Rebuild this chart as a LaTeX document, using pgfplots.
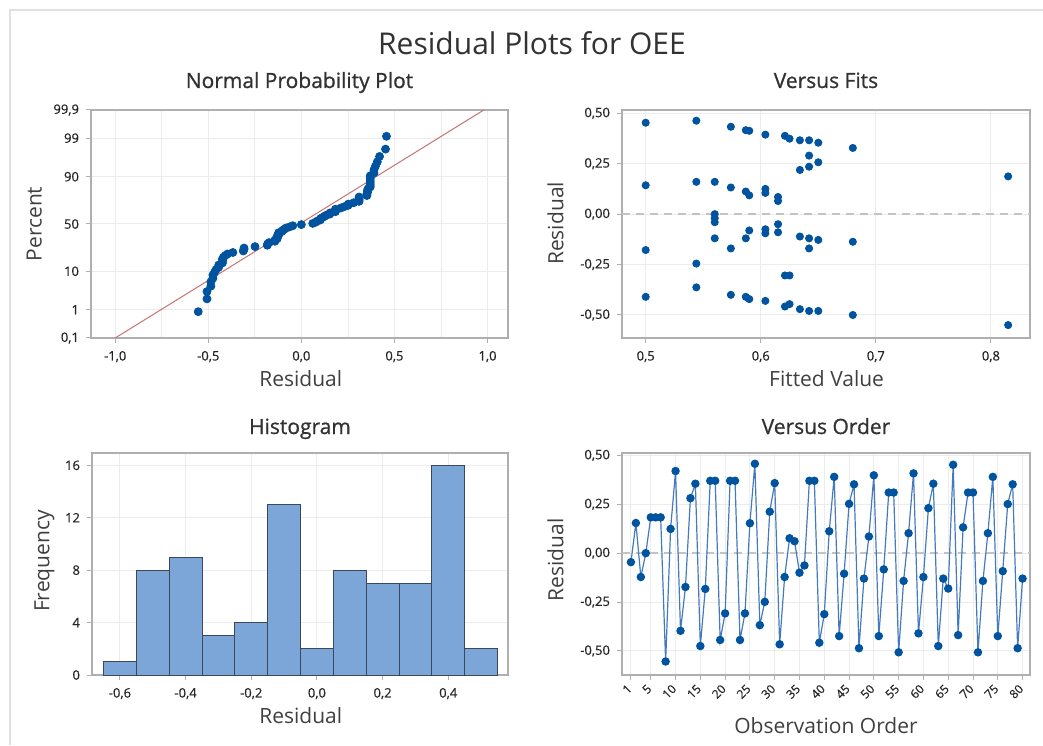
\documentclass[border=0pt]{standalone}
\usepackage{pgfplots}
\pgfplotsset{compat=1.18}
\usepackage{fontspec}
\setmainfont{Open Sans}
\newfontfamily\semib{Open Sans}[FakeBold=0.8]
\newfontfamily\tickf{Open Sans}[FakeBold=0.5]
\definecolor{mk}{RGB}{0,84,159}
\definecolor{ln}{RGB}{70,122,190}
\definecolor{barf}{RGB}{124,165,216}
\definecolor{bare}{RGB}{60,72,90}
\definecolor{fr}{RGB}{175,175,175}
\definecolor{gr}{RGB}{236,236,236}
\definecolor{txt}{RGB}{50,50,50}
\definecolor{lab}{RGB}{64,64,64}
\definecolor{fitl}{RGB}{200,115,115}
\definecolor{zl}{RGB}{195,195,195}
\pgfplotsset{
  mystyle/.style={
    scale only axis,
    axis line style={fr, line width=0.7pt},
    tick align=outside,
    tick pos=left,
    major tick length=2.5pt,
    minor tick length=0pt,
    tick style={fr, line width=0.5pt},
    grid=major,
    major grid style={gr, line width=0.5pt},
    minor grid style={gr, line width=0.4pt},
    ticklabel style={font=\tickf\fontsize{6.5}{7}\selectfont, text=black!85},
    xticklabel style={yshift=-0.5pt},
    /pgf/number format/assume math mode=true,
  },
}
\pgfplotstableread{
obs res
1 -0.046
2 0.154
3 -0.122
4 0.0
5 0.183
6 0.183
7 0.183
8 -0.554
9 0.124
10 0.42
11 -0.397
12 -0.173
13 0.281
14 0.355
15 -0.475
16 -0.183
17 0.37
18 0.37
19 -0.444
20 -0.308
21 0.37
22 0.37
23 -0.444
24 -0.308
25 0.153
26 0.457
27 -0.368
28 -0.249
29 0.212
30 0.358
31 -0.466
32 -0.122
33 0.076
34 0.061
35 -0.1
36 -0.063
37 0.37
38 0.37
39 -0.458
40 -0.312
41 0.112
42 0.39
43 -0.424
44 -0.105
45 0.252
46 0.352
47 -0.486
48 -0.13
49 0.085
50 0.398
51 -0.424
52 -0.083
53 0.31
54 0.31
55 -0.507
56 -0.142
57 0.102
58 0.408
59 -0.41
60 -0.122
61 0.23
62 0.355
63 -0.475
64 -0.13
65 -0.181
66 0.452
67 -0.419
68 0.132
69 0.31
70 0.31
71 -0.507
72 -0.142
73 0.102
74 0.39
75 -0.424
76 -0.092
77 0.251
78 0.352
79 -0.486
80 -0.13
}\ordertab
\pgfplotstableread{
res z
-0.554 -2.377
-0.507 -2.030
-0.507 -1.831
-0.486 -1.685
-0.486 -1.568
-0.475 -1.469
-0.475 -1.383
-0.466 -1.306
-0.458 -1.236
-0.444 -1.172
-0.444 -1.112
-0.424 -1.056
-0.424 -1.003
-0.424 -0.953
-0.419 -0.905
-0.410 -0.859
-0.397 -0.814
-0.368 -0.772
-0.312 -0.731
-0.308 -0.690
-0.308 -0.651
-0.249 -0.613
-0.183 -0.576
-0.181 -0.539
-0.173 -0.504
-0.142 -0.469
-0.142 -0.434
-0.130 -0.400
-0.130 -0.367
-0.130 -0.334
-0.122 -0.301
-0.122 -0.268
-0.122 -0.236
-0.105 -0.204
-0.100 -0.172
-0.092 -0.141
-0.083 -0.110
-0.063 -0.078
-0.046 -0.047
0.000 -0.016
0.061 0.016
0.076 0.047
0.085 0.078
0.102 0.110
0.102 0.141
0.112 0.172
0.124 0.204
0.132 0.236
0.153 0.268
0.154 0.301
0.183 0.334
0.183 0.367
0.183 0.400
0.212 0.434
0.230 0.469
0.251 0.504
0.252 0.539
0.281 0.576
0.310 0.613
0.310 0.651
0.310 0.690
0.310 0.731
0.352 0.772
0.352 0.814
0.355 0.859
0.355 0.905
0.358 0.953
0.370 1.003
0.370 1.056
0.370 1.112
0.370 1.172
0.370 1.236
0.370 1.306
0.390 1.383
0.390 1.469
0.398 1.568
0.408 1.685
0.420 1.831
0.452 2.030
0.457 2.377
}\normtab
\pgfplotstableread{
fit res
0.500 0.453
0.500 0.143
0.500 -0.178
0.500 -0.410
0.544 0.463
0.544 0.160
0.544 -0.245
0.544 -0.363
0.560 0.160
0.560 0.000
0.560 -0.020
0.560 -0.040
0.560 -0.120
0.574 0.433
0.574 0.132
0.574 -0.170
0.574 -0.400
0.587 0.416
0.587 0.112
0.587 -0.120
0.587 -0.410
0.590 0.413
0.590 0.093
0.590 -0.081
0.590 -0.421
0.604 0.394
0.604 0.125
0.604 0.105
0.604 -0.075
0.604 -0.095
0.604 -0.430
0.615 0.085
0.615 0.065
0.615 -0.050
0.615 -0.090
0.621 0.388
0.621 -0.304
0.621 -0.458
0.625 0.374
0.625 -0.304
0.625 -0.446
0.634 0.366
0.634 0.219
0.634 -0.111
0.634 -0.471
0.642 0.366
0.642 0.290
0.642 0.235
0.642 -0.120
0.642 -0.170
0.642 -0.480
0.650 0.354
0.650 0.257
0.650 -0.128
0.650 -0.480
0.680 0.328
0.680 -0.137
0.680 -0.500
0.815 0.187
0.815 -0.550
}\fitstab
\begin{document}
\begin{tikzpicture}[x=1pt,y=1pt]
\useasboundingbox (0,0) rectangle (521.5,372.5);
\fill[white] (0,0) rectangle (521.5,372.5);
\draw[black!12, line width=1pt] (5,0) -- (5,367.5) -- (521.5,367.5);

% ---------- Normal probability plot
\begin{axis}[mystyle, at={(45.5pt,203.5pt)}, anchor=south west,
  width=208.5pt, height=114pt,
  xmin=-1.13, xmax=1.11, ymin=-3.09, ymax=3.09,
  xtick={-1,-0.5,0,0.5,1},
  xticklabels={{-1,0},{-0,5},{0,0},{0,5},{1,0}},
  minor xtick={-0.75,-0.25,0.25,0.75},
  xminorgrids=true,
  ytick={-3.09,-2.326,-1.2816,0,1.2816,2.326,3.09},
  yticklabels={{0,1},1,10,50,90,99,{99,9}},
  clip=false]
\addplot[fitl, line width=0.5pt] coordinates {(-1.0,-3.09) (0.98,3.09)};
\addplot[only marks, mark=*, mark size=2pt, mark options={draw=mk, fill=mk}] table[x=res,y=z] {\normtab};
\end{axis}

% ---------- Versus fits
\begin{axis}[mystyle, at={(311pt,203.5pt)}, anchor=south west,
  width=204pt, height=114pt,
  xmin=0.4794, xmax=0.834, ymin=-0.614, ymax=0.516,
  xtick={0.5,0.6,0.7,0.8},
  xticklabels={{0,5},{0,6},{0,7},{0,8}},
  ytick={-0.5,-0.25,0,0.25,0.5},
  yticklabels={{-0,50},{-0,25},{0,00},{0,25},{0,50}}]
\addplot[zl, line width=0.7pt, dash pattern=on 4pt off 3pt] coordinates {(0.4794,0) (0.834,0)};
\addplot[only marks, mark=*, mark size=1.8pt, mark options={draw=mk, fill=mk}] table[x=fit,y=res] {\fitstab};
\end{axis}

% ---------- Histogram
\begin{axis}[mystyle, at={(46pt,35pt)}, anchor=south west,
  width=208pt, height=111pt,
  xmin=-0.685, xmax=0.582, ymin=0, ymax=16.94,
  xtick={-0.6,-0.4,-0.2,0,0.2,0.4},
  xticklabels={{-0,6},{-0,4},{-0,2},{0,0},{0,2},{0,4}},
  ytick={0,4,8,12,16}]
\addplot[ybar interval, fill=barf, draw=bare, line width=0.45pt] coordinates {
(-0.65,1) (-0.55,8) (-0.45,9) (-0.35,3) (-0.25,4) (-0.15,13)
(-0.05,2) (0.05,8) (0.15,7) (0.25,7) (0.35,16) (0.45,2) (0.55,2)};
\end{axis}

% ---------- Versus order
\begin{axis}[mystyle, at={(311pt,35pt)}, anchor=south west,
  width=204pt, height=111pt,
  xmin=-0.8, xmax=81.5, ymin=-0.623, ymax=0.512,
  xtick={1,5,10,15,20,25,30,35,40,45,50,55,60,65,70,75,80},
  xticklabels={1,5,10,15,20,25,30,35,40,45,50,55,60,65,70,75,80},
  xticklabel style={rotate=45, anchor=east, xshift=1pt, yshift=-1.5pt, font=\tickf\fontsize{6}{6}\selectfont},
  ytick={-0.5,-0.25,0,0.25,0.5},
  yticklabels={{-0,50},{-0,25},{0,00},{0,25},{0,50}}]
\addplot[zl, line width=0.7pt, dash pattern=on 4pt off 3pt] coordinates {(-0.8,0) (81.5,0)};
\addplot[ln, line width=0.6pt, mark=*, mark size=1.8pt, mark options={draw=mk, fill=mk}] table[x=obs,y=res] {\ordertab};
\end{axis}

% ---------- Titles and labels
\node[anchor=base, text=txt, font=\fontsize{15}{17}\selectfont] at (266,345) {Residual Plots for OEE};
\node[anchor=base, text=txt, font=\semib\fontsize{10.5}{12}\selectfont] at (149.75,328.5) {Normal Probability Plot};
\node[anchor=base, text=txt, font=\semib\fontsize{10.5}{12}\selectfont] at (413,328.5) {Versus Fits};
\node[anchor=base, text=txt, font=\semib\fontsize{10.5}{12}\selectfont] at (150,155.5) {Histogram};
\node[anchor=base, text=txt, font=\semib\fontsize{10.5}{12}\selectfont] at (413,155.5) {Versus Order};

\node[anchor=base, text=lab, font=\fontsize{10.5}{12}\selectfont] at (150.4,179.2) {Residual};
\node[anchor=base, text=lab, font=\fontsize{10.5}{12}\selectfont] at (413.3,179.2) {Fitted Value};
\node[anchor=base, text=lab, font=\fontsize{10.5}{12}\selectfont] at (150.4,10.9) {Residual};
\node[anchor=base, text=lab, font=\fontsize{10.5}{12}\selectfont] at (413,6) {Observation Order};

\node[anchor=base, rotate=90, text=lab, font=\fontsize{10.5}{12}\selectfont] at (20.8,260.5) {Percent};
\node[anchor=base, rotate=90, text=lab, font=\fontsize{10.5}{12}\selectfont] at (281.7,260.8) {Residual};
\node[anchor=base, rotate=90, text=lab, font=\fontsize{10.5}{12}\selectfont] at (24.7,92) {Frequency};
\node[anchor=base, rotate=90, text=lab, font=\fontsize{10.5}{12}\selectfont] at (281.7,92.5) {Residual};
\end{tikzpicture}
\end{document}
